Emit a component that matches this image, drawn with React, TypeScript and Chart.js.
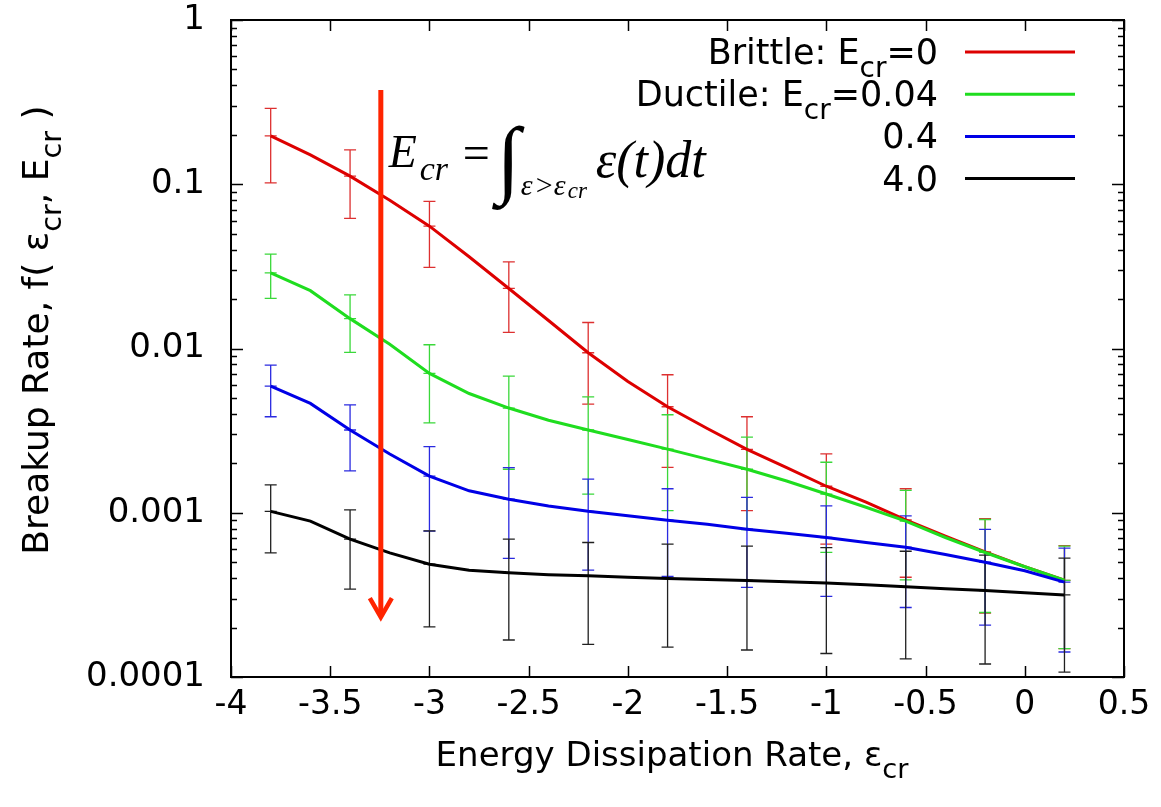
import React, { useEffect, useRef } from "react";
import { Chart, registerables } from "chart.js";

Chart.register(...registerables);

// ---------- data ----------
const xLine = [-3.8, -3.6, -3.4, -3.2, -3.0, -2.8, -2.6, -2.4, -2.2, -2.0, -1.8, -1.6, -1.4, -1.2, -1.0, -0.8, -0.6, -0.4, -0.2, 0.0, 0.2];

const brittle = [0.197, 0.151, 0.112, 0.080, 0.0556, 0.0362, 0.0232, 0.0148, 0.00942, 0.0063, 0.00442, 0.00326, 0.00243, 0.00188, 0.00145, 0.00116, 0.000905, 0.00072, 0.000578, 0.00047, 0.000388];
const ductile = [0.0289, 0.0225, 0.0152, 0.0106, 0.00705, 0.00532, 0.00434, 0.00366, 0.00319, 0.00279, 0.00244, 0.00212, 0.00184, 0.00156, 0.0013, 0.00108, 0.00089, 0.000707, 0.000573, 0.000469, 0.000388];
const ecr04 = [0.0059, 0.00463, 0.00319, 0.00228, 0.00167, 0.00136, 0.00121, 0.0011, 0.00102, 0.00096, 0.0009, 0.00085, 0.000794, 0.00075, 0.000707, 0.00066, 0.000617, 0.000557, 0.0005, 0.000443, 0.000378];
const ecr40 = [0.00102, 0.00089, 0.00069, 0.00057, 0.000486, 0.000447, 0.000431, 0.00042, 0.000413, 0.000405, 0.000398, 0.000392, 0.000387, 0.00038, 0.000374, 0.000364, 0.000354, 0.000345, 0.000336, 0.000326, 0.000316];

const xErr = [-3.8, -3.4, -3.0, -2.6, -2.2, -1.8, -1.4, -1.0, -0.6, -0.2, 0.2];

const brittleLow = [0.102, 0.062, 0.0312, 0.01253, 0.00459, 0.00189, 0.00103, 0.000644, 0.000405, 0.000245, 0.000149];
const brittleHigh = [0.29, 0.162, 0.0787, 0.0337, 0.0144, 0.00692, 0.00384, 0.00228, 0.0014, 0.00092, 0.00063];
const ductileLow = [0.0202, 0.00946, 0.00353, 0.00184, 0.0013, 0.00103, 0.00079, 0.000573, 0.00039, 0.000247, 0.000149];
const ductileHigh = [0.0376, 0.0212, 0.01054, 0.00679, 0.00508, 0.00395, 0.00289, 0.00203, 0.00137, 0.00091, 0.000626];
const ecr04Low = [0.00384, 0.0018, 0.000773, 0.000528, 0.000447, 0.00041, 0.000351, 0.00031, 0.000265, 0.000207, 0.000142];
const ecr04High = [0.00792, 0.00454, 0.00253, 0.00188, 0.0016, 0.0014, 0.00124, 0.0011, 0.000958, 0.000791, 0.000609];
const ecr40Low = [0.00057, 0.000343, 0.000202, 0.000168, 0.000158, 0.000152, 0.000146, 0.000139, 0.000129, 0.00012, 0.000107];
const ecr40High = [0.00148, 0.00104, 0.000776, 0.00069, 0.000659, 0.000644, 0.000626, 0.000614, 0.000583, 0.000552, 0.000529];

const seriesLabels = ["Brittle: E_{cr}=0", "Ductile: E_{cr}=0.04", "0.4", "4.0"];

const xTicks = [-4, -3.5, -3, -2.5, -2, -1.5, -1, -0.5, 0, 0.5];
const xTickLabels = ["-4", "-3.5", "-3", "-2.5", "-2", "-1.5", "-1", "-0.5", "0", "0.5"];
const yTicks = [1, 0.1, 0.01, 0.001, 0.0001];
const yTickLabels = ["1", "0.1", "0.01", "0.001", "0.0001"];

const xTitle = "Energy Dissipation Rate, ε_{cr}";
const yTitle = "Breakup Rate, f( ε_{cr}, E_{cr} )";

const arrowX = -3.245;
const arrowTop = 0.375;
const arrowTip = 0.000225;
const formulaAnchorX = -3.205;
const formulaAnchorY = 0.127;

// ---------- styles ----------
const lineColors = ["#dd0000", "#1fdd1f", "#0000e6", "#000000"];
const errColors = ["#dd3030", "#3ad83a", "#2a2ae0", "#202020"];
const SANS = "'DejaVu Sans'";
const SERIF = "'Liberation Serif'";

const seriesValues = [brittle, ductile, ecr04, ecr40];
const seriesLow = [brittleLow, ductileLow, ecr04Low, ecr40Low];
const seriesHigh = [brittleHigh, ductileHigh, ecr04High, ecr40High];

function parseRich(text: string) {
  const parts: { t: string; sub: boolean }[] = [];
  const re = /_\{([^}]*)\}/g;
  let last = 0;
  let m: RegExpExecArray | null;
  while ((m = re.exec(text))) {
    if (m.index > last) parts.push({ t: text.slice(last, m.index), sub: false });
    parts.push({ t: m[1], sub: true });
    last = m.index + m[0].length;
  }
  if (last < text.length) parts.push({ t: text.slice(last), sub: false });
  return parts;
}

function drawRich(ctx: CanvasRenderingContext2D, text: string, x: number, y: number, size: number, align: "left" | "right" | "center") {
  const parts = parseRich(text);
  const subSize = size * 0.8;
  const widths = parts.map((p) => {
    ctx.font = `${p.sub ? subSize : size}px ${SANS}`;
    return ctx.measureText(p.t).width;
  });
  const total = widths.reduce((a, b) => a + b, 0);
  let cx = align === "left" ? x : align === "right" ? x - total : x - total / 2;
  ctx.textAlign = "left";
  ctx.textBaseline = "alphabetic";
  parts.forEach((p, i) => {
    ctx.font = `${p.sub ? subSize : size}px ${SANS}`;
    ctx.fillText(p.t, cx, p.sub ? y + size * 0.36 : y);
    cx += widths[i];
  });
}

const errorBarPlugin = {
  id: "errorBars",
  beforeDatasetsDraw(chart: any) {
    const { ctx, scales } = chart;
    const xs = scales.x;
    const ys = scales.y;
    ctx.save();
    ctx.lineWidth = 1.3;
    seriesValues.forEach((vals, k) => {
      ctx.strokeStyle = errColors[k];
      xErr.forEach((xv, i) => {
        const px = xs.getPixelForValue(xv);
        const yl = ys.getPixelForValue(seriesLow[k][i]);
        const yh = ys.getPixelForValue(seriesHigh[k][i]);
        const idx = xLine.findIndex((v) => Math.abs(v - xv) < 1e-9);
        const yc = ys.getPixelForValue(vals[idx]);
        const w = 6;
        ctx.beginPath();
        ctx.moveTo(px, yl);
        ctx.lineTo(px, yh);
        ctx.moveTo(px - w, yl);
        ctx.lineTo(px + w, yl);
        ctx.moveTo(px - w, yh);
        ctx.lineTo(px + w, yh);
        ctx.moveTo(px - w, yc);
        ctx.lineTo(px + w, yc);
        ctx.stroke();
      });
    });
    ctx.restore();
  },
};

const framePlugin = {
  id: "frameTicks",
  afterDatasetsDraw(chart: any) {
    const { ctx, chartArea: a, scales } = chart;
    const xs = scales.x;
    const ys = scales.y;
    ctx.save();
    ctx.strokeStyle = "#000";
    ctx.lineWidth = 1.5;
    ctx.beginPath();
    xTicks.forEach((v) => {
      const px = Math.round(xs.getPixelForValue(v)) + 0.5;
      ctx.moveTo(px, a.bottom);
      ctx.lineTo(px, a.bottom - 11);
      ctx.moveTo(px, a.top);
      ctx.lineTo(px, a.top + 11);
    });
    for (let d = 0; d < yTicks.length; d++) {
      const dec = yTicks[d];
      const py = Math.round(ys.getPixelForValue(dec)) + 0.5;
      ctx.moveTo(a.left, py);
      ctx.lineTo(a.left + 12, py);
      ctx.moveTo(a.right, py);
      ctx.lineTo(a.right - 12, py);
      if (dec < 1) {
        for (let m = 2; m <= 9; m++) {
          const my = Math.round(ys.getPixelForValue(dec * m)) + 0.5;
          ctx.moveTo(a.left, my);
          ctx.lineTo(a.left + 6, my);
          ctx.moveTo(a.right, my);
          ctx.lineTo(a.right - 6, my);
        }
      }
    }
    ctx.stroke();
    ctx.lineWidth = 2;
    ctx.strokeRect(a.left, a.top, a.right - a.left, a.bottom - a.top);
    ctx.restore();
  },
};

const annotationPlugin = {
  id: "annotations",
  afterDraw(chart: any) {
    const { ctx, scales } = chart;
    const xs = scales.x;
    const ys = scales.y;
    ctx.save();
    ctx.fillStyle = "#000";

    // Axis titles
    drawRich(ctx, xTitle, 672, 766, 34, "center");
    ctx.save();
    ctx.translate(48, 330);
    ctx.rotate(-Math.PI / 2);
    drawRich(ctx, yTitle, 0, 0, 36, "center");
    ctx.restore();

    // Legend
    seriesLabels.forEach((lab, k) => {
      const cy = 52 + 42.2 * k;
      ctx.fillStyle = "#000";
      drawRich(ctx, lab, 938, cy + 12, 35, "right");
      ctx.strokeStyle = lineColors[k];
      ctx.lineWidth = 3;
      ctx.beginPath();
      ctx.moveTo(965, cy);
      ctx.lineTo(1075, cy);
      ctx.stroke();
    });

    // Red arrow
    const ax = xs.getPixelForValue(arrowX);
    const at = ys.getPixelForValue(arrowTop);
    const ab = ys.getPixelForValue(arrowTip);
    ctx.strokeStyle = "#ff2400";
    ctx.lineWidth = 5;
    ctx.lineCap = "butt";
    ctx.beginPath();
    ctx.moveTo(ax, at);
    ctx.lineTo(ax, ab - 3);
    ctx.stroke();
    ctx.lineWidth = 4.5;
    ctx.lineJoin = "miter";
    ctx.beginPath();
    ctx.moveTo(ax - 11, ab - 21);
    ctx.lineTo(ax, ab - 2);
    ctx.lineTo(ax + 11, ab - 21);
    ctx.stroke();

    // Formula
    const fx = xs.getPixelForValue(formulaAnchorX);
    const fy = ys.getPixelForValue(formulaAnchorY);
    ctx.fillStyle = "#000";
    ctx.textAlign = "left";
    ctx.textBaseline = "alphabetic";
    ctx.font = `italic 46px ${SERIF}`;
    ctx.fillText("E", fx, fy);
    ctx.font = `italic 34px ${SERIF}`;
    ctx.fillText("cr", fx + 31, fy + 13);
    ctx.font = `48px ${SERIF}`;
    ctx.fillText("=", fx + 74, fy + 2);
    ctx.font = `italic bold 86px ${SERIF}`;
    ctx.fillText("∫", fx + 107, fy + 20);
    ctx.font = `italic 30px ${SERIF}`;
    ctx.fillText("ε", fx + 132, fy + 28);
    ctx.font = `30px ${SERIF}`;
    ctx.fillText(">", fx + 147, fy + 28);
    ctx.font = `italic 30px ${SERIF}`;
    ctx.fillText("ε", fx + 165, fy + 28);
    ctx.font = `italic 23px ${SERIF}`;
    ctx.fillText("cr", fx + 179, fy + 31);
    ctx.font = `italic 52px ${SERIF}`;
    ctx.fillText("ε(t)dt", fx + 207, fy + 10);
    ctx.restore();
  },
};

export default function App() {
  const ref = useRef<HTMLCanvasElement>(null);
  useEffect(() => {
    document.body.style.margin = "0";
    const canvas = ref.current;
    if (!canvas) return;
    const datasets = seriesValues.map((vals, k) => ({
      label: seriesLabels[k],
      data: xLine.map((x, i) => ({ x, y: vals[i] })),
      borderColor: lineColors[k],
      backgroundColor: lineColors[k],
      borderWidth: 3,
      pointRadius: 0,
      tension: 0,
      fill: false,
      order: 4 - k,
    }));
    const chart = new Chart(canvas, {
      type: "line",
      data: { datasets },
      options: {
        responsive: false,
        animation: false,
        devicePixelRatio: 1,
        layout: { padding: { top: 20, right: 37, left: 0, bottom: 0 } },
        plugins: {
          legend: { display: false },
          tooltip: { enabled: false },
          title: { display: false },
        },
        scales: {
          x: {
            type: "linear",
            min: -4,
            max: 0.5,
            grid: { display: false, drawTicks: false },
            border: { display: false },
            afterBuildTicks: (s: any) => {
              s.ticks = xTicks.map((v) => ({ value: v }));
            },
            afterFit: (s: any) => {
              s.height = 130;
              s.paddingLeft = 0;
              s.paddingRight = 0;
              s.paddingTop = 0;
              s.paddingBottom = 0;
            },
            ticks: {
              autoSkip: false,
              maxRotation: 0,
              minRotation: 0,
              padding: 12,
              color: "#000",
              font: { family: SANS, size: 33, lineHeight: 1 },
              callback: (v: any) => {
                const i = xTicks.findIndex((t) => Math.abs(t - Number(v)) < 1e-9);
                return i >= 0 ? xTickLabels[i] : "";
              },
            },
          },
          y: {
            type: "logarithmic",
            min: 0.0001,
            max: 1,
            grid: { display: false, drawTicks: false },
            border: { display: false },
            afterBuildTicks: (s: any) => {
              s.ticks = yTicks.map((v) => ({ value: v }));
            },
            afterFit: (s: any) => {
              s.width = 231;
              s.paddingLeft = 0;
              s.paddingRight = 0;
              s.paddingTop = 0;
              s.paddingBottom = 0;
            },
            ticks: {
              autoSkip: false,
              padding: 26,
              color: "#000",
              font: { family: SANS, size: 34, lineHeight: 1 },
              callback: (v: any) => {
                const i = yTicks.findIndex((t) => Math.abs(Math.log10(t) - Math.log10(Number(v))) < 1e-6);
                return i >= 0 ? yTickLabels[i] : "";
              },
            },
          },
        },
      } as any,
      plugins: [errorBarPlugin, framePlugin, annotationPlugin],
    });
    return () => chart.destroy();
  }, []);
  return (
    <div style={{ position: "absolute", left: 0, top: 0, width: 1161, height: 807, background: "#fff" }}>
      <canvas ref={ref} width={1161} height={807} style={{ display: "block" }} />
    </div>
  );
}
